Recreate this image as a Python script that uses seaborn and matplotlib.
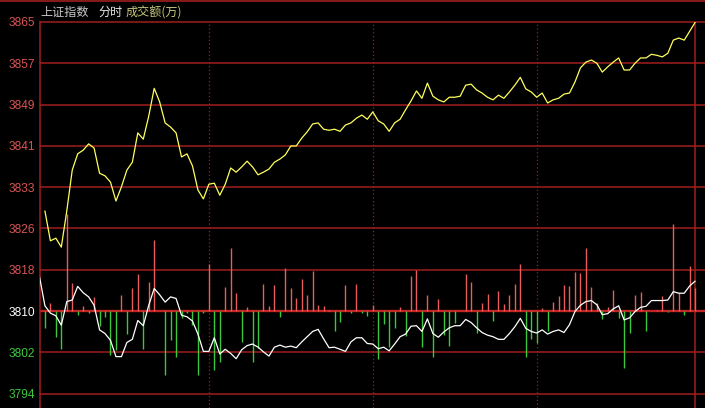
import numpy as np
import pandas as pd
import matplotlib
matplotlib.use("Agg")
import matplotlib.pyplot as plt
import seaborn as sns
from matplotlib.lines import Line2D

# ---------------- data ----------------
price = [3828.9, 3823.2, 3823.7, 3822.0, 3828.9, 3836.7, 3839.8, 3840.5, 3841.7, 3840.9,
         3836.1, 3835.6, 3834.4, 3830.8, 3833.5, 3836.7, 3838.2, 3843.8, 3842.6, 3847.0,
         3852.3, 3849.7, 3845.7, 3844.9, 3843.8, 3839.2, 3839.8, 3837.5, 3832.9, 3831.2,
         3834.0, 3834.2, 3831.9, 3834.0, 3837.1, 3836.3, 3837.3, 3838.4, 3837.3, 3835.8,
         3836.3, 3836.9, 3838.2, 3838.8, 3839.6, 3841.3, 3841.3, 3842.8, 3844.0, 3845.5,
         3845.7, 3844.5, 3844.3, 3844.5, 3844.1, 3845.3, 3845.7, 3846.6, 3847.2, 3846.4,
         3847.8, 3846.1, 3845.5, 3844.1, 3845.7, 3846.4, 3848.2, 3849.9, 3851.8, 3850.4,
         3853.3, 3850.8, 3850.1, 3849.7, 3850.6, 3850.6, 3850.8, 3852.9, 3853.1, 3852.0,
         3851.4, 3850.6, 3850.1, 3851.0, 3850.4, 3851.6, 3852.9, 3854.4, 3852.2, 3851.6,
         3850.6, 3851.4, 3849.5, 3850.1, 3850.4, 3851.2, 3851.4, 3853.5, 3856.2, 3857.3,
         3857.7, 3857.1, 3855.4, 3856.4, 3857.3, 3858.1, 3855.8, 3855.8, 3857.1, 3858.1,
         3858.1, 3858.8, 3858.6, 3858.3, 3859.0, 3861.5, 3861.9, 3861.5, 3863.2, 3864.9]

lead_line = [3816.4, 3810.8, 3809.4, 3808.9, 3807.1, 3811.6, 3811.9, 3814.5, 3813.3, 3812.5,
             3810.9, 3806.2, 3805.5, 3804.2, 3801.1, 3801.1, 3803.8, 3804.4, 3808.0, 3807.0,
             3810.9, 3814.1, 3812.9, 3811.5, 3812.5, 3812.2, 3809.0, 3808.7, 3807.9, 3805.4,
             3802.1, 3802.1, 3804.7, 3801.6, 3802.5, 3801.7, 3800.7, 3802.4, 3803.2, 3803.5,
             3802.9, 3802.0, 3801.2, 3802.9, 3803.3, 3802.9, 3803.1, 3802.8, 3803.9, 3804.9,
             3805.9, 3806.3, 3804.5, 3802.8, 3802.9, 3802.5, 3802.1, 3803.9, 3804.7, 3804.7,
             3803.6, 3803.5, 3802.6, 3802.9, 3802.2, 3803.5, 3804.9, 3805.4, 3806.9, 3807.0,
             3805.9, 3808.3, 3805.5, 3804.8, 3805.8, 3806.6, 3807.0, 3807.0, 3808.2, 3807.6,
             3806.6, 3805.7, 3805.2, 3804.9, 3804.4, 3804.4, 3805.5, 3806.8, 3808.4, 3806.5,
             3805.9, 3805.6, 3806.2, 3805.4, 3805.9, 3806.2, 3805.7, 3807.2, 3809.7, 3810.9,
             3811.6, 3811.8, 3811.0, 3809.1, 3809.3, 3810.2, 3810.8, 3808.1, 3808.5, 3809.7,
             3810.5, 3810.7, 3811.8, 3811.8, 3811.8, 3811.9, 3813.5, 3813.2, 3813.2, 3814.6,
             3815.5]

strength = [-3.3, 1.5, -5.0, -7.3, 18.6, 5.3, -0.8, 1.0, -0.4, 2.7,
            -2.9, -1.2, -8.4, -7.5, 3.1, -4.3, 4.4, 7.1, -7.3, 5.6,
            13.5, 0.0, -12.2, -5.6, -8.7, -1.4, -0.4, -2.6, -12.2, -0.4,
            8.9, -11.3, -9.7, 4.6, 12.0, 3.5, -5.9, 0.8, -9.7, -7.1,
            5.2, 1.0, 5.0, -1.1, 8.3, 4.4, 2.5, 6.1, 3.1, 7.6,
            1.2, 1.0, 0.2, -3.9, -2.0, 5.0, -0.4, 5.2, -0.3, -0.9,
            1.1, -9.2, -2.4, -6.8, -3.2, 0.7, -4.8, 6.7, 7.8, -6.8,
            3.1, -8.7, 2.3, -4.6, -6.6, -2.3, 0.0, 7.1, 5.6, -4.1,
            1.6, 3.2, -1.9, 3.9, 1.3, 3.1, 5.1, 9.0, -8.7, -5.3,
            -6.1, 0.6, -3.8, 1.7, 2.9, 5.0, 4.8, 7.5, 7.3, 12.0,
            4.5, 1.6, -1.6, 0.7, 4.0, -1.3, -10.9, -4.1, 3.1, 3.7,
            -3.9, 0.0, 0.2, 2.9, -0.2, 16.6, 3.4, -0.7, 8.6, 4.4]

tick_labels = ["3794", "3802", "3810", "3818", "3826", "3833", "3841", "3849", "3857", "3865"]
header = ["上证指数", "分时", "成交额(万)"]

prev_close = 3809.8
step = 7.88

# ---------------- style ----------------
sns.set_style("dark", {"axes.facecolor": "black", "figure.facecolor": "black"})
plt.rcParams["font.family"] = ["Liberation Sans", "DejaVu Sans"]

GRID = "#a01e1e"
RED_TXT = "#d85454"
GREEN_TXT = "#3ec83e"
RED_BAR = "#e85c5c"
GREEN_BAR = "#3cc83c"
YELLOW = "#ffff5c"

W, H = 705, 408
fig = plt.figure(figsize=(W / 100, H / 100), dpi=100, facecolor="black")
ax = fig.add_axes([40 / W, 0, (W - 40) / W, (H - 22) / H])
ax.set_facecolor("black")

t_lead = np.arange(len(lead_line))
t_price = np.arange(1, len(price) + 1)
df_price = pd.DataFrame({"t": t_price, "v": price})
df_lead = pd.DataFrame({"t": t_lead, "v": lead_line})

ks = np.arange(-2, 8)
tick_pos = prev_close + ks * step

# horizontal grid
for k, yv in zip(ks, tick_pos):
    if k == 0:
        ax.axhline(yv, color="#c42424", lw=1.7, zorder=1)
    else:
        ax.axhline(yv, color=GRID, lw=1.1, zorder=1, clip_on=False)

# vertical dotted dividers and end line
for tv in [31, 61, 91]:
    ax.axvline(tv, color=GRID, lw=0.9, ls=(0, (1, 2)), zorder=1)
ax.axvline(len(price), color=GRID, lw=1.1, zorder=1)

# bars
s = np.array(strength)
bar_colors = [RED_BAR if v > 0 else GREEN_BAR for v in s]
ax.vlines(t_price, prev_close, prev_close + s, colors=bar_colors, lw=1.0, zorder=2)

# lines
sns.lineplot(data=df_lead, x="t", y="v", color="white", lw=0.9, ax=ax,
             estimator=None, legend=False, zorder=3)
sns.lineplot(data=df_price, x="t", y="v", color=YELLOW, lw=0.9, ax=ax,
             estimator=None, legend=False, zorder=4)

ax.set_xlim(0.1, 121.8)
ax.set_ylim(prev_close - 97 / 41.3 * step, prev_close + 7 * step)
ax.set_xlabel("")
ax.set_ylabel("")
ax.set_xticks([])
ax.set_yticks(tick_pos)
ax.set_yticklabels(tick_labels, fontsize=8.6)
for k, lab in zip(ks, ax.get_yticklabels()):
    lab.set_color("white" if k == 0 else (RED_TXT if k > 0 else GREEN_TXT))
ax.tick_params(axis="y", length=0, pad=3.8)
ax.grid(False)

for side in ["top", "right", "bottom"]:
    ax.spines[side].set_visible(False)
ax.spines["left"].set_color(GRID)
ax.spines["left"].set_linewidth(1.1)

# top border of figure
fig.add_artist(Line2D([0, 1], [1 - 0.6 / H, 1 - 0.6 / H], color=GRID, lw=1.2))

# header texts
cjk = ["Noto Sans CJK SC", "DejaVu Sans"]
fy = 1 - 12.5 / H
fig.text(40 / W, fy, header[0], color="#c8c8c8", fontsize=8.7, family=cjk, va="center", ha="left")
fig.text(98 / W, fy, header[1], color="#e8e8e8", fontsize=8.7, family=cjk, va="center", ha="left")
fig.text(126 / W, fy, header[2], color="#c8c87a", fontsize=8.7, family=cjk, va="center", ha="left")

fig.savefig("out.png", dpi=100, facecolor="black")
